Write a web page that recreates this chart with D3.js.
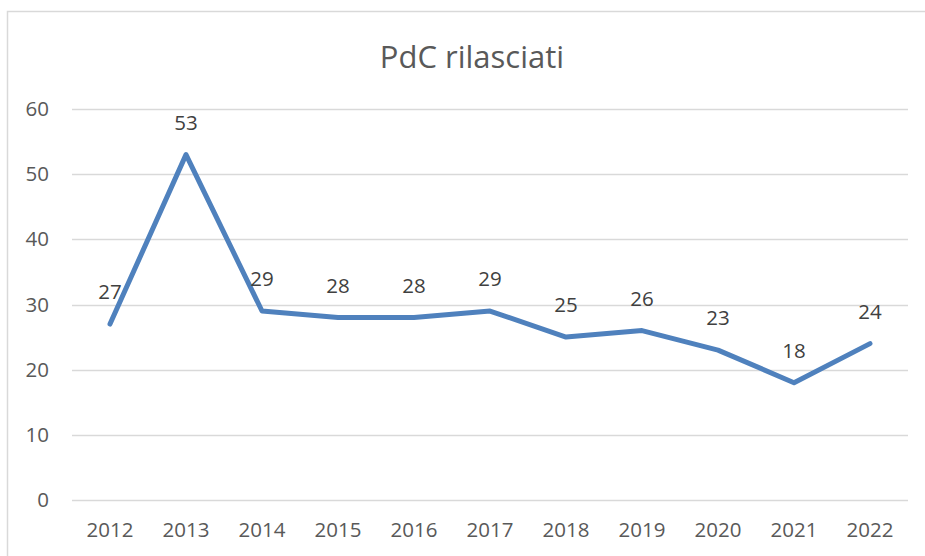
<!DOCTYPE html>
<html>
<head>
<meta charset="utf-8">
<script src="https://cdn.jsdelivr.net/npm/d3@7"></script>
<style>
  body { margin: 0; background: #fff; }
  svg { display: block; font-family: "Open Sans", sans-serif; }
</style>
</head>
<body>
<div id="chart"></div>
<script>
// PdC rilasciati per anno
const years = ["2012", "2013", "2014", "2015", "2016", "2017", "2018", "2019", "2020", "2021", "2022"];
const pdc = [27, 53, 29, 28, 28, 29, 25, 26, 23, 18, 24];
const yTicks = [0, 10, 20, 30, 40, 50, 60];

const width = 925, height = 556;
const margin = { top: 109, right: 17, bottom: 56, left: 72 };

const svg = d3.select("#chart").append("svg")
  .attr("width", width)
  .attr("height", height);

// cornice del grafico
svg.append("rect")
  .attr("x", 7.5).attr("y", 11.5)
  .attr("width", 940).attr("height", 580)
  .attr("fill", "#fff")
  .attr("stroke", "#d9d9d9")
  .attr("stroke-width", 1.5);

const x = d3.scaleBand()
  .domain(years)
  .range([margin.left, width - margin.right]);

const y = d3.scaleLinear()
  .domain([0, 60])
  .range([height - margin.bottom, margin.top]);

// griglia orizzontale
svg.append("g")
  .selectAll("line")
  .data(yTicks)
  .join("line")
  .attr("x1", margin.left)
  .attr("x2", width - margin.right)
  .attr("y1", d => Math.round(y(d)) + 0.5)
  .attr("y2", d => Math.round(y(d)) + 0.5)
  .attr("stroke", "#d9d9d9")
  .attr("stroke-width", 1.5);

// etichette asse y
svg.append("g")
  .selectAll("text")
  .data(yTicks)
  .join("text")
  .attr("x", 49)
  .attr("y", d => y(d) + 7)
  .attr("text-anchor", "end")
  .attr("fill", "#595959")
  .attr("font-size", 20.5)
  .text(d => d);

// etichette asse x
svg.append("g")
  .selectAll("text")
  .data(years)
  .join("text")
  .attr("x", d => x(d) + x.bandwidth() / 2)
  .attr("y", height - margin.bottom + 37)
  .attr("text-anchor", "middle")
  .attr("fill", "#595959")
  .attr("font-size", 20.5)
  .text(d => d);

// linea
const line = d3.line()
  .x((d, i) => x(years[i]) + x.bandwidth() / 2)
  .y(d => y(d));

svg.append("path")
  .datum(pdc)
  .attr("d", line)
  .attr("fill", "none")
  .attr("stroke", "#4f81bd")
  .attr("stroke-width", 5)
  .attr("stroke-linejoin", "round")
  .attr("stroke-linecap", "round");

// etichette dati
svg.append("g")
  .selectAll("text")
  .data(pdc)
  .join("text")
  .attr("x", (d, i) => x(years[i]) + x.bandwidth() / 2)
  .attr("y", d => y(d) - 25)
  .attr("text-anchor", "middle")
  .attr("fill", "#404040")
  .attr("font-size", 20.5)
  .text(d => d);

// titolo
svg.append("text")
  .attr("x", 472)
  .attr("y", 68)
  .attr("text-anchor", "middle")
  .attr("fill", "#595959")
  .attr("font-size", 31)
  .text("PdC rilasciati");
</script>
</body>
</html>
